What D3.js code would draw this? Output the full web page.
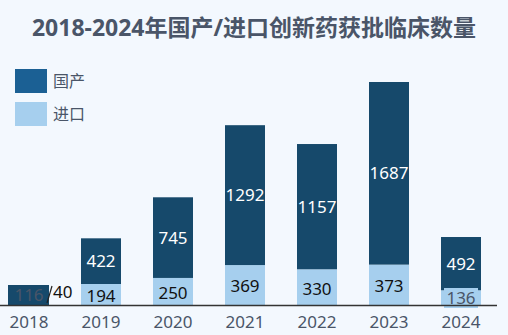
<!DOCTYPE html>
<html><head><meta charset="utf-8">
<script src="https://cdn.jsdelivr.net/npm/d3@7"></script>
<style>
html,body{margin:0;padding:0;background:#f3f8fe;}
svg{display:block;font-family:"Noto Sans","Noto Sans CJK SC",sans-serif;}
</style></head>
<body><svg id="c" width="508" height="335"></svg>
<script>
const years = ["2018","2019","2020","2021","2022","2023","2024"];
const domestic = [116,422,745,1292,1157,1687,492];
const imported = [40,194,250,369,330,373,136];
const seriesNames = ["国产","进口"];
const title = "2018-2024年国产/进口创新药获批临床数量";

const svg = d3.select("#c");
const W = 508, H = 335;
const darkBar = "#16496b", darkLegend = "#1b6094", light = "#a6cfee";
const textGray = "#4a5568";
svg.append("rect").attr("width",W).attr("height",H).attr("fill","#f3f8fe");

const base = 305;
const x = d3.scaleBand().domain(years).range([-7,497]).paddingInner(32/72).paddingOuter(16/72);
const y = d3.scaleLinear().domain([0,2060]).range([base,82]);

svg.append("text").attr("x",254).attr("y",36).attr("text-anchor","middle")
  .attr("font-size",23).attr("font-weight","bold").attr("fill",textGray).text(title);

// legend
[[darkLegend,seriesNames[0],69],[light,seriesNames[1],102]].forEach(([c,t,yy])=>{
  svg.append("rect").attr("x",15).attr("y",yy).attr("width",32).attr("height",24).attr("fill",c);
  svg.append("text").attr("x",53).attr("y",yy+12).attr("dy","0.35em").attr("font-size",16).attr("fill",textGray).text(t);
});

const data = years.map((yr,i)=>({yr, d:domestic[i], m:imported[i]}));
const g = svg.append("g");
data.forEach(o=>{
  const bx = x(o.yr), bw = x.bandwidth();
  g.append("rect").attr("x",bx).attr("width",bw).attr("y",y(o.m)).attr("height",base-y(o.m)).attr("fill",light);
  g.append("rect").attr("x",bx).attr("width",bw).attr("y",y(o.m+o.d)).attr("height",y(o.m)-y(o.m+o.d)).attr("fill",darkBar);
});

// labels
data.forEach(o=>{
  const cx = x(o.yr)+x.bandwidth()/2;
  const hd = y(o.m)-y(o.m+o.d), hm = base-y(o.m);
  if (hd >= 20) {
    g.append("text").attr("x",cx).attr("y",(y(o.m)+y(o.m+o.d))/2).attr("dy","0.35em")
      .attr("text-anchor","middle").attr("font-size",17).attr("fill","#ffffff").text(o.d);
  } else {
    g.append("rect").attr("x",cx-21).attr("y",285).attr("width",41).attr("height",20).attr("fill",darkBar);
    g.append("text").attr("x",cx).attr("y",295).attr("dy","0.35em")
      .attr("text-anchor","middle").attr("font-size",17).attr("fill",textGray).text(o.d);
  }
  if (hm >= 18) {
    g.append("text").attr("x",cx).attr("y",(base+y(o.m))/2+1.5).attr("dy","0.35em")
      .attr("text-anchor","middle").attr("font-size",17).attr("fill","#111111").text(o.m);
  } else if (hm >= 10) {
    g.append("rect").attr("x",cx-17).attr("y",base-17).attr("width",34).attr("height",20).attr("fill",light);
    g.append("text").attr("x",cx).attr("y",base-7).attr("dy","0.35em")
      .attr("text-anchor","middle").attr("font-size",17).attr("fill",textGray).text(o.m);
  } else {
    g.append("line").attr("x1",x(o.yr)+x.bandwidth()-2).attr("y1",base-2).attr("x2",x(o.yr)+x.bandwidth()+3).attr("y2",286)
      .attr("stroke","#222").attr("stroke-width",1.2);
    g.append("text").attr("x",x(o.yr)+x.bandwidth()+4).attr("y",292).attr("dy","0.35em")
      .attr("text-anchor","start").attr("font-size",17).attr("fill","#111111").text(o.m);
  }
});

// axis
const ax = svg.append("g").attr("transform",`translate(0,${base})`)
  .call(d3.axisBottom(x).tickSize(0).tickPadding(11));
ax.select(".domain").attr("stroke","#333").attr("stroke-width",1.5).attr("d","M0,0.5H497");
ax.selectAll("text").attr("font-size",17).attr("fill",textGray).attr("font-family","\"Noto Sans\",sans-serif");
</script></body></html>
